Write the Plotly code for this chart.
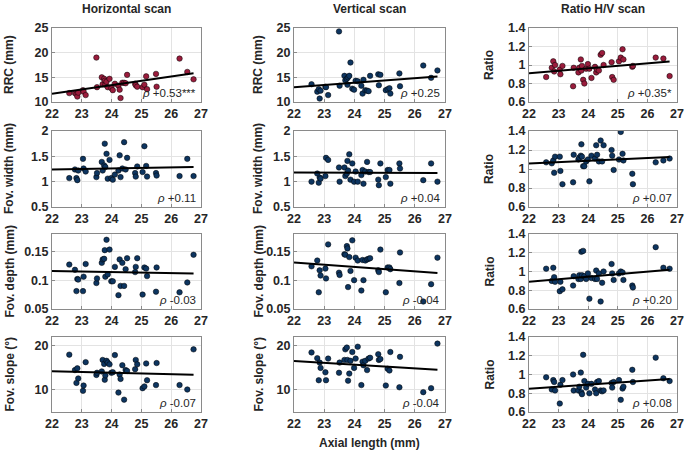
import numpy as np
import plotly.graph_objects as go

# ---------------- data ----------------
AL = [22.58, 22.77, 22.82, 22.85, 22.88, 23.04, 23.06, 23.13, 23.49, 23.51,
      23.67, 23.70, 23.75, 23.77, 23.79, 23.83, 23.87, 23.93, 23.99, 24.04,
      24.11, 24.23, 24.27, 24.30, 24.36, 24.42, 24.47, 24.52, 24.79, 24.81,
      24.86, 25.04, 25.10, 25.16, 25.19, 25.49, 25.51, 26.28, 26.54, 26.75]

hor_rrc = [11.8, 11.8, 11.6, 11.1, 11.9, 12.4, 12.1, 11.4, 19.0, 13.0,
           15.0, 13.6, 14.7, 14.3, 13.5, 14.1, 13.0, 14.7, 12.8, 12.4,
           13.7, 13.3, 12.5, 10.8, 13.9, 13.9, 13.8, 15.5, 13.7, 13.4,
           13.1, 13.0, 13.5, 15.2, 12.6, 15.7, 13.1, 18.8, 16.1, 14.6]
ver_rrc = [13.6, 12.1, 12.6, 10.7, 12.3, 13.1, 13.0, 11.4, 24.3, 13.3,
           15.3, 14.4, 14.7, 13.5, 15.0, 15.3, 18.0, 12.7, 12.5, 14.3,
           14.2, 13.3, 11.7, 14.5, 12.4, 12.3, 12.2, 15.3, 15.6, 13.4,
           15.5, 12.4, 12.6, 12.8, 11.7, 15.8, 13.2, 17.4, 14.9, 16.4]
ratio_rrc = [0.87, 0.97, 1.04, 0.93, 1.00, 0.95, 0.90, 0.99, 0.77, 0.97,
             0.92, 0.97, 1.06, 0.94, 0.99, 0.84, 0.80, 0.96, 1.01, 0.96,
             0.86, 0.98, 0.92, 0.95, 0.94, 1.11, 1.13, 1.00, 1.03, 0.87,
             0.84, 1.04, 1.08, 1.17, 1.06, 0.98, 0.99, 1.08, 1.07, 0.88]

hor_width = [1.07, 1.24, 1.07, 1.03, 1.22, 1.45, 1.26, 1.20, 1.09, 1.17,
             1.39, 1.22, 1.32, 1.75, 1.29, 1.55, 1.06, 1.43, 1.07, 1.04,
             1.14, 1.22, 1.52, 1.09, 1.26, 1.78, 1.24, 1.47, 1.17, 1.10,
             1.30, 1.19, 1.70, 1.31, 1.10, 1.17, 1.12, 1.11, 1.45, 1.11]
ver_width = [1.00, 1.16, 0.98, 1.08, 1.06, 1.11, 1.47, 1.43, 1.28, 1.00,
             1.28, 1.11, 1.16, 1.41, 1.22, 1.54, 1.04, 1.36, 1.00, 1.20,
             1.00, 1.13, 1.23, 0.96, 1.20, 1.39, 1.19, 1.19, 1.04, 0.93,
             1.36, 1.09, 1.23, 1.23, 0.96, 1.36, 1.26, 1.03, 1.36, 1.00]
ratio_width = [1.07, 1.06, 1.09, 0.96, 1.13, 1.13, 0.98, 0.84, 0.86, 1.15,
               1.10, 1.12, 1.14, 1.26, 1.13, 1.03, 1.03, 1.08, 1.10, 0.87,
               1.14, 1.11, 1.25, 1.15, 1.08, 1.30, 1.08, 1.25, 1.20, 1.14,
               0.99, 1.10, 1.39, 1.16, 1.09, 0.95, 0.84, 1.07, 1.09, 1.11]

hor_depth = [0.127, 0.118, 0.081, 0.102, 0.101, 0.081, 0.106, 0.128, 0.095, 0.103,
             0.130, 0.136, 0.137, 0.152, 0.106, 0.170, 0.110, 0.153, 0.098, 0.098,
             0.123, 0.074, 0.136, 0.090, 0.130, 0.090, 0.119, 0.138, 0.114, 0.123,
             0.138, 0.075, 0.122, 0.120, 0.107, 0.080, 0.122, 0.079, 0.096, 0.144]
ver_depth = [0.124, 0.134, 0.079, 0.117, 0.108, 0.120, 0.103, 0.162, 0.113, 0.109,
             0.145, 0.144, 0.159, 0.155, 0.088, 0.140, 0.116, 0.169, 0.100, 0.139,
             0.134, 0.082, 0.135, 0.100, 0.134, 0.136, 0.137, 0.138, 0.117, 0.114,
             0.153, 0.079, 0.122, 0.122, 0.119, 0.095, 0.148, 0.063, 0.093, 0.139]
ratio_depth = [1.03, 0.90, 1.04, 0.94, 0.89, 0.79, 0.89, 0.81, 0.85, 0.95,
               0.92, 0.96, 0.92, 1.21, 0.96, 1.22, 0.95, 0.92, 0.98, 0.71,
               0.93, 0.92, 1.01, 0.92, 0.98, 0.68, 0.88, 1.00, 1.08, 0.98,
               0.91, 0.98, 1.00, 0.99, 0.91, 0.85, 0.83, 1.26, 1.04, 1.03]

hor_slope = [18.0, 14.5, 11.6, 14.9, 12.6, 9.8, 11.0, 16.3, 13.4, 13.9,
             14.2, 16.8, 15.9, 12.3, 13.3, 16.6, 16.2, 15.8, 13.9, 14.0,
             17.9, 9.4, 13.5, 12.5, 15.6, 7.8, 14.5, 14.3, 14.7, 16.8,
             15.8, 10.4, 10.8, 16.0, 12.2, 11.1, 16.1, 11.1, 10.1, 19.2]
ver_slope = [18.5, 17.2, 12.2, 16.2, 15.0, 14.0, 12.2, 17.1, 13.9, 16.2,
             16.8, 19.2, 19.6, 16.8, 12.1, 13.7, 16.6, 18.6, 15.0, 17.1,
             19.8, 11.1, 16.4, 15.6, 16.6, 14.5, 17.1, 17.3, 18.1, 16.8,
             17.0, 11.0, 14.8, 14.4, 18.6, 10.6, 17.5, 9.5, 10.4, 20.5]
ratio_slope = [0.97, 0.84, 0.94, 0.92, 0.83, 0.69, 0.89, 0.94, 1.00, 0.83,
               0.83, 0.87, 1.02, 0.81, 0.79, 1.21, 0.93, 0.86, 0.90, 0.80,
               0.90, 0.84, 0.80, 0.92, 0.93, 0.83, 0.82, 0.83, 0.91, 0.86,
               0.92, 0.94, 0.73, 0.85, 0.87, 1.05, 0.92, 1.18, 0.96, 0.93]

col_titles = ["Horizontal scan", "Vertical scan", "Ratio H/V scan"]
row_ylabels = ["RRC (mm)", "Fov. width (mm)", "Fov. depth (mm)", "Fov. slope (°)"]
ratio_ylabel = "Ratio"
x_label = "Axial length (mm)"

rho_labels = [["+0.53***", "+0.25", "+0.35*"],
              ["+0.11", "+0.04", "+0.07"],
              ["-0.03", "-0.04", "+0.20"],
              ["-0.07", "-0.04", "+0.08"]]

x_ticks = [22, 23, 24, 25, 26, 27]
y_ticks_rows = [[10, 15, 20, 25], [0.5, 1, 1.5, 2], [0.05, 0.1, 0.15], [10, 20]]
y_ticktext_rows = [["10", "15", "20", "25"], ["0.5", "1", "1.5", "2"],
                   ["0.05", "0.1", "0.15"], ["10", "20"]]
y_range_rows = [[10, 25], [0.5, 2], [0.05, 0.18], [5, 22]]
ratio_ticks = [0.6, 0.8, 1.0, 1.2, 1.4]
ratio_ticktext = ["0.6", "0.8", "1", "1.2", "1.4"]
ratio_range = [0.6, 1.4]

data = [[hor_rrc, ver_rrc, ratio_rrc],
        [hor_width, ver_width, ratio_width],
        [hor_depth, ver_depth, ratio_depth],
        [hor_slope, ver_slope, ratio_slope]]

# ---------------- layout geometry (pixels) ----------------
W, H = 685, 459
col_px = [(52, 201), (294, 445), (529, 677)]
row_px = [(28, 102), (131, 207), (234, 309), (337, 412)]
ylab_x = [9, 258, 489]

RED = "#9a1c3c"
NAVY = "#0d3560"
TXT = "#262626"
BOLD_FONT = "Liberation Sans"

fig = go.Figure()
layout = dict(width=W, height=H, template="none",
              margin=dict(l=0, r=0, t=0, b=0, pad=0, autoexpand=False),
              paper_bgcolor="white", plot_bgcolor="white", showlegend=False)
annotations = []

for r in range(4):
    for c in range(3):
        k = r * 3 + c + 1
        xa = "x" if k == 1 else f"x{k}"
        ya = "y" if k == 1 else f"y{k}"
        xs = np.array(AL)
        ys = np.array(data[r][c])
        color = RED if (r == 0 and c != 1) else NAVY
        fig.add_trace(go.Scatter(x=xs, y=ys, mode="markers", xaxis=xa, yaxis=ya,
                                 marker=dict(size=5.5, color=color,
                                             line=dict(color="black", width=0.5))))
        m, b = np.polyfit(xs, ys, 1)
        lx = np.array([22, xs.max()])
        fig.add_trace(go.Scatter(x=lx, y=m * lx + b, mode="lines", xaxis=xa, yaxis=ya,
                                 line=dict(color="black", width=2)))
        x0, x1 = col_px[c]
        y0, y1 = row_px[r]
        common = dict(showgrid=True, gridcolor="#e3e3e3", gridwidth=1,
                      showline=True, linecolor="#8a8a8a", linewidth=1, mirror=True,
                      ticks="inside", ticklen=3, tickcolor="#8a8a8a", automargin=False,
                      tickfont=dict(family=BOLD_FONT, size=12.5, color=TXT, weight="bold"),
                      zeroline=False)
        layout["xaxis" if k == 1 else f"xaxis{k}"] = dict(
            domain=[x0 / W, x1 / W], range=[22, 27], tickvals=x_ticks,
            anchor=ya, **common)
        if c == 2:
            yt, ytt, yr = ratio_ticks, ratio_ticktext, ratio_range
            ylab = ratio_ylabel
        else:
            yt, ytt, yr = y_ticks_rows[r], y_ticktext_rows[r], y_range_rows[r]
            ylab = row_ylabels[r]
        layout["yaxis" if k == 1 else f"yaxis{k}"] = dict(
            domain=[1 - y1 / H, 1 - y0 / H], range=yr, tickvals=yt, ticktext=ytt,
            anchor=xa, **common)
        # rho label
        annotations.append(dict(
            x=(x1 - 3) / W, y=1 - (y1 - 1) / H, xref="paper", yref="paper",
            xanchor="right", yanchor="bottom", showarrow=False,
            text="<i>ρ</i> " + rho_labels[r][c],
            font=dict(family=BOLD_FONT, size=11.5, color=TXT)))
        # y label
        annotations.append(dict(
            x=ylab_x[c] / W, y=1 - (y0 + y1) / 2 / H, xref="paper", yref="paper",
            xanchor="center", yanchor="middle", showarrow=False, textangle=-90,
            text=ylab, font=dict(family=BOLD_FONT, size=12, color=TXT, weight="bold")))

for c in range(3):
    x0, x1 = col_px[c]
    annotations.append(dict(
        x=(x0 + x1) / 2 / W, y=1 - 9 / H, xref="paper", yref="paper",
        xanchor="center", yanchor="middle", showarrow=False, text=col_titles[c],
        font=dict(family=BOLD_FONT, size=12, color=TXT, weight="bold")))

annotations.append(dict(
    x=(col_px[1][0] + col_px[1][1]) / 2 / W, y=1 - 443 / H, xref="paper", yref="paper",
    xanchor="center", yanchor="middle", showarrow=False, text=x_label,
    font=dict(family=BOLD_FONT, size=12, color=TXT, weight="bold")))

layout["annotations"] = annotations
fig.update_layout(**layout)
fig.write_html("out.html", config={"displayModeBar": False},
               post_script="document.body.style.margin='0';document.body.style.overflow='hidden';")
